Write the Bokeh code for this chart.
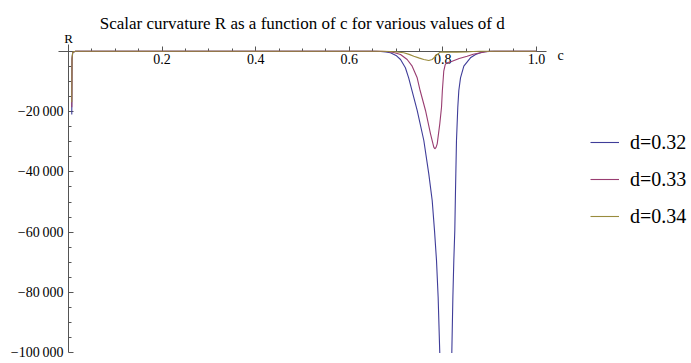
from bokeh.plotting import figure
from bokeh.models import (FixedTicker, Label, Legend, LegendItem)
from bokeh.embed import file_html
from bokeh.resources import INLINE

nan = float("nan")

# ---- data (c, R) ----
c_d032 = [0.0070, 0.0075, 0.0090, 0.0150, 0.0300, 0.6500, 0.6670, 0.6780, 0.6880, 0.7000,
          0.7096, 0.7200, 0.7270, 0.7340, 0.7452, 0.7594, 0.7700, 0.7773, 0.7822, 0.7865,
          0.7900, 0.7935, nan,
          0.8192, 0.8215, 0.8235, 0.8256, 0.8271, 0.8292, 0.8320, 0.8342, 0.8378, 0.8449,
          0.8590, 0.8700, 0.8805, 0.8900, 0.9000, 0.9200, 1.0000]
R_d032 = [-20980, -3000, -400, -40, 0, 0, -100, -250, -530, -1400,
          -2750, -5500, -8820, -13000, -19650, -29600, -40640, -49500, -59400, -69400,
          -81500, -100000, nan,
          -100000, -81500, -69400, -59400, -46200, -29600, -18560, -13030, -8820, -4970,
          -2190, -1100, -530, -200, -60, 0, 0]

c_d033 = [0.0070, 0.0075, 0.0090, 0.0150, 0.0300, 0.6600, 0.6810, 0.6950, 0.7096, 0.7238,
          0.7345, 0.7452, 0.7515, 0.7630, 0.7737, 0.7807, 0.7829, 0.7855, 0.7880, 0.7935,
          0.7972, 0.7990, 0.8020, 0.8050, 0.8080, 0.8200, 0.8350, 0.8520, 0.8650, 0.8805,
          0.8950, 0.9100, 1.0000]
R_d033 = [-18560, -2600, -350, -35, 0, 0, -100, -450, -1100, -2750,
          -4970, -8820, -13030, -19650, -27400, -31800, -32350, -31900, -30700, -24100,
          -18560, -13100, -6630, -4500, -3900, -3300, -2400, -1660, -1000, -530,
          -100, 0, 0]

c_d034 = [0.0070, 0.0075, 0.0090, 0.0150, 0.0300, 0.6700, 0.6880, 0.7020, 0.7166, 0.7280,
          0.7380, 0.7500, 0.7594, 0.7700, 0.7773, 0.7830, 0.7880, 0.7930, 0.7970, 0.8050,
          0.8300, 0.8500, 0.8650, 0.8800, 1.0000]
R_d034 = [-16900, -2400, -300, -30, 0, 0, -100, -250, -530, -1050,
          -1660, -2300, -2750, -3080, -2750, -1900, -1100, -450, -250, -300,
          -320, -250, -100, 0, 0]

series_names = ["d=0.32", "d=0.33", "d=0.34"]
series_colors = ["#3f3d99", "#993d71", "#998b3d"]

x_tick_values = [0.2, 0.4, 0.6, 0.8, 1.0]
x_tick_labels = ["0.2", "0.4", "0.6", "0.8", "1.0"]
x_minor_values = [0.05, 0.1, 0.15, 0.25, 0.3, 0.35, 0.45, 0.5, 0.55,
                  0.65, 0.7, 0.75, 0.85, 0.9, 0.95]
y_tick_values = [-20000, -40000, -60000, -80000, -100000]
y_tick_labels = ["\u221220\u2009000", "\u221240\u2009000", "\u221260\u2009000",
                 "\u221280\u2009000", "\u2212100\u2009000"]
y_minor_values = [-5000, -10000, -15000, -25000, -30000, -35000, -45000, -50000, -55000,
                  -65000, -70000, -75000, -85000, -90000, -95000]

title_text = "Scalar curvature R as a function of c for various values of d"

FONT = "Liberation Serif"
AXIS_COLOR = "#555555"

W, H = 691, 363
px_per_c = 467.9
px_per_R = 301.7 / 100000.0
x0_px = 68.0      # c = 0
y0_px = 50.7      # R = 0 (from top)

p = figure(width=W, height=H, output_backend="svg", toolbar_location=None,
           x_range=(-x0_px / px_per_c, (W - x0_px) / px_per_c),
           y_range=(-(H - y0_px) / px_per_R, y0_px / px_per_R),
           min_border=0, min_border_left=0, min_border_right=0,
           min_border_top=0, min_border_bottom=0)
p.outline_line_color = None
p.xgrid.visible = False
p.ygrid.visible = False

xa = p.xaxis[0]
xa.fixed_location = 0
xa.bounds = (-0.0214, 1.021)
xa.ticker = FixedTicker(ticks=x_tick_values, minor_ticks=x_minor_values)
xa.major_label_overrides = dict(zip(x_tick_values, x_tick_labels))
xa.axis_line_color = AXIS_COLOR
xa.major_tick_line_color = AXIS_COLOR
xa.minor_tick_line_color = AXIS_COLOR
xa.major_tick_in = 5
xa.major_tick_out = 0
xa.minor_tick_in = 3
xa.minor_tick_out = 0
xa.major_label_standoff = 3
xa.major_label_text_font = FONT
xa.major_label_text_font_size = "14px"
xa.major_label_text_color = "black"

ya = p.yaxis[0]
ya.fixed_location = 0
ya.bounds = (-100000, 2300)
ya.ticker = FixedTicker(ticks=y_tick_values, minor_ticks=y_minor_values)
ya.major_label_overrides = dict(zip(y_tick_values, y_tick_labels))
ya.axis_line_color = AXIS_COLOR
ya.major_tick_line_color = AXIS_COLOR
ya.minor_tick_line_color = AXIS_COLOR
ya.major_tick_in = 5
ya.major_tick_out = 0
ya.minor_tick_in = 3
ya.minor_tick_out = 0
ya.major_label_standoff = 5
ya.major_label_text_font = FONT
ya.major_label_text_font_size = "14px"
ya.major_label_text_color = "black"

renderers = []
for cs, rs, col in zip([c_d032, c_d033, c_d034], [R_d032, R_d033, R_d034], series_colors):
    r = p.line(cs, rs, line_color=col, line_width=1.1, level="overlay")
    renderers.append(r)

legend = Legend(items=[LegendItem(label=n, renderers=[r]) for n, r in zip(series_names, renderers)],
                location=(590, 135.0), orientation="vertical",
                padding=0, margin=0, spacing=13,
                glyph_width=29, glyph_height=24, label_height=24, label_standoff=11,
                label_text_font=FONT, label_text_font_size="20px", label_text_color="black",
                border_line_alpha=0, background_fill_alpha=0)
p.add_layout(legend)

p.add_layout(Label(x=301.7, y=H - 23.3, x_units="screen", y_units="screen", text=title_text,
                   text_align="center", text_baseline="alphabetic",
                   text_font=FONT, text_font_size="17px", text_color="black"))
p.add_layout(Label(x=0, y=4110, text="R", text_align="center", text_baseline="alphabetic",
                   text_font=FONT, text_font_size="13px", text_color="black"))
p.add_layout(Label(x=1.0515, y=-1425, text="c", text_align="center", text_baseline="alphabetic",
                   text_font=FONT, text_font_size="14px", text_color="black"))

open("out.html", "w").write(file_html(p, INLINE))
